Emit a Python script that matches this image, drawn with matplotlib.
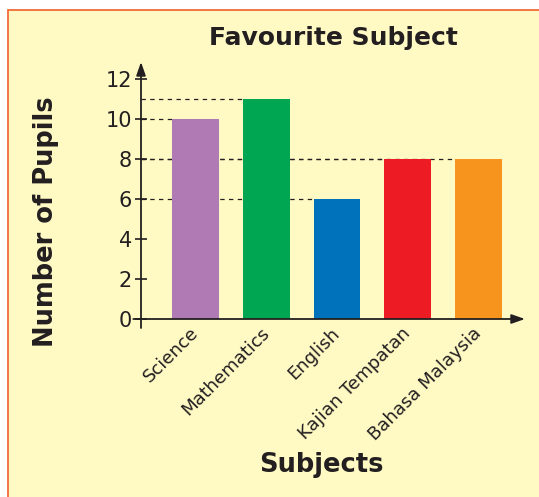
import matplotlib.pyplot as plt
from matplotlib.patches import Rectangle
from matplotlib.transforms import ScaledTranslation

# chart data
subjects = ['Science', 'Mathematics', 'English', 'Kajian Tempatan', 'Bahasa Malaysia']
pupils = [10, 11, 6, 8, 8]
colors = ['#B07AB4', '#00A651', '#0072BC', '#ED1C24', '#F7941D']
yticks = [0, 2, 4, 6, 8, 10, 12]

bg = '#FFF9C4'
ink = '#231F20'

fig = plt.figure(figsize=(5.39, 4.97), dpi=100)
fig.patch.set_facecolor('white')

# yellow panel with orange border (top and left only visible)
fig.patches.append(Rectangle((8 / 539, -0.05), 1.1, 1 - 10 / 497 + 0.05,
                             transform=fig.transFigure, facecolor=bg,
                             edgecolor='#F26B3A', linewidth=1.3, zorder=-1))

W, H = 539, 497
ax = fig.add_axes([141 / W, (H - 319) / H, 384 / W, 257 / H])
ax.set_facecolor('none')

x = list(range(len(subjects)))
width = 0.66
ax.bar(x, pupils, width=width, color=colors, zorder=3)

xmin, xmax = -0.77, 4.66
ax.set_xlim(xmin, xmax)
ax.set_ylim(0, 12.85)

# dashed guide lines from the axis to each bar
for xi, v in zip(x, pupils):
    ax.hlines(v, xmin, xi - width / 2, colors=ink, linestyles=(0, (3.5, 3.5)),
              linewidth=0.9, zorder=2)

for s in ax.spines.values():
    s.set_visible(False)

# axes with arrows
ax.annotate('', xy=(0, 1.0), xytext=(0, -0.035), xycoords='axes fraction',
            arrowprops=dict(arrowstyle='-|>,head_width=0.28,head_length=0.8',
                            color=ink, lw=1.3, shrinkA=0, shrinkB=0))
ax.annotate('', xy=(1.0, 0), xytext=(-0.02, 0), xycoords='axes fraction',
            arrowprops=dict(arrowstyle='-|>,head_width=0.28,head_length=0.8',
                            color=ink, lw=1.3, shrinkA=0, shrinkB=0))

ax.set_yticks(yticks)
ax.set_yticklabels([str(t) for t in yticks], fontsize=15, color=ink)
ax.tick_params(axis='y', direction='inout', length=9, width=1.2, color=ink, pad=2)

ax.set_xticks(x)
ax.set_xticklabels(subjects, rotation=45, ha='right', rotation_mode='anchor',
                   fontsize=13, color=ink)
ax.tick_params(axis='x', length=0, pad=5)
shift = ScaledTranslation(-6 / 100, 2 / 100, fig.dpi_scale_trans)
for lbl in ax.get_xticklabels():
    lbl.set_transform(lbl.get_transform() + shift)

fig.text(333 / W, 1 - 38 / H, 'Favourite Subject', ha='center', va='center',
         fontsize=18, fontweight='bold', color=ink)
fig.text(46 / W, 1 - 222 / H, 'Number of Pupils', ha='center', va='center',
         rotation=90, fontsize=18.5, fontweight='bold', color=ink)
fig.text(321 / W, 1 - 465 / H, 'Subjects', ha='center', va='center',
         fontsize=18.5, fontweight='bold', color=ink)

fig.savefig('out.png', dpi=100, facecolor=fig.get_facecolor())
